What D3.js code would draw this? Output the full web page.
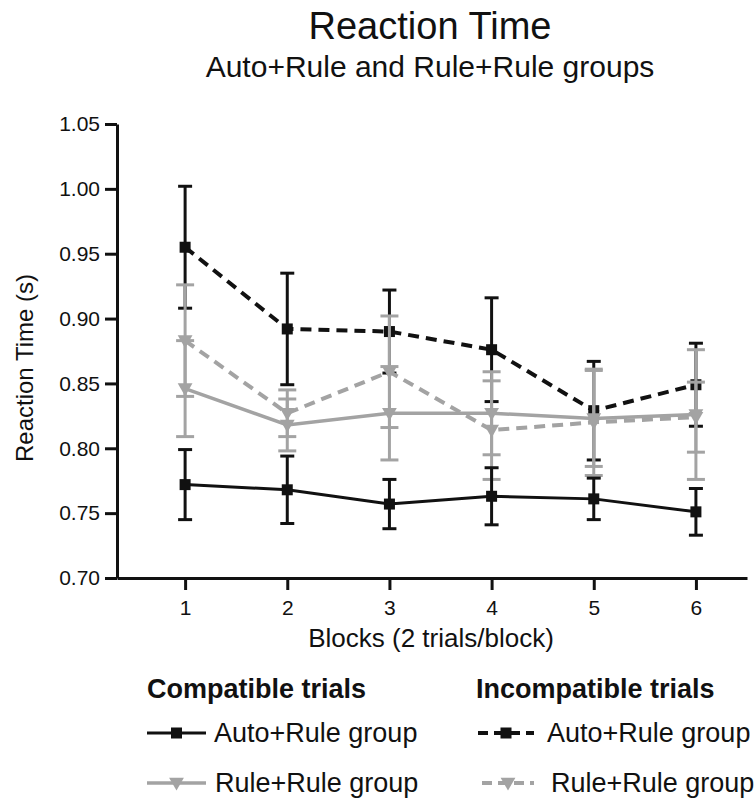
<!DOCTYPE html>
<html>
<head>
<meta charset="utf-8">
<script src="https://cdn.jsdelivr.net/npm/d3@7"></script>
<style>
  body { margin: 0; background: #fff; }
  text { font-family: "Liberation Sans", Arial, Helvetica, sans-serif; fill: #111; }
</style>
</head>
<body>
<div id="chart"></div>
<script>
// data (mean and SEM per block, seconds)
var blocks = [1, 2, 3, 4, 5, 6];
var yTicks = [0.70, 0.75, 0.80, 0.85, 0.90, 0.95, 1.00, 1.05];

var compAutoMean = [0.772, 0.768, 0.757, 0.763, 0.761, 0.751];
var compAutoSem  = [0.027, 0.026, 0.019, 0.022, 0.016, 0.018];
var compRuleMean = [0.846, 0.818, 0.827, 0.827, 0.823, 0.826];
var compRuleSem  = [0.037, 0.020, 0.036, 0.032, 0.037, 0.050];
var incAutoMean  = [0.955, 0.892, 0.890, 0.876, 0.829, 0.849];
var incAutoSem   = [0.047, 0.043, 0.032, 0.040, 0.038, 0.032];
var incRuleMean  = [0.883, 0.827, 0.859, 0.814, 0.820, 0.824];
var incRuleSem   = [0.043, 0.018, 0.043, 0.038, 0.041, 0.027];

var title = "Reaction Time";
var subtitle = "Auto+Rule and Rule+Rule groups";
var xTitle = "Blocks (2 trials/block)";
var yTitle = "Reaction Time (s)";
var legendHeads = ["Compatible trials", "Incompatible trials"];
var groupLabels = ["Auto+Rule group", "Rule+Rule group"];

var black = "#111", gray = "#a3a3a3";

var svg = d3.select("#chart")
  .append("svg")
    .attr("width", 755)
    .attr("height", 800);

// scales
var x = d3.scaleLinear().domain([1/3, 6.5]).range([117, 747]);
var y = d3.scaleLinear().domain([0.70, 1.05]).range([578, 124]);

// titles
svg.append("text")
  .attr("x", 430).attr("y", 39)
  .attr("text-anchor", "middle")
  .style("font-size", "38px")
  .text(title);
svg.append("text")
  .attr("x", 430).attr("y", 77)
  .attr("text-anchor", "middle")
  .style("font-size", "30px")
  .text(subtitle);

// axes
var yAxis = svg.append("g")
  .attr("transform", "translate(117,0)")
  .call(d3.axisLeft(y).tickValues(yTicks).tickFormat(d3.format(".2f"))
    .tickSize(12).tickSizeOuter(0).tickPadding(5));
var xAxis = svg.append("g")
  .attr("transform", "translate(0,578)")
  .call(d3.axisBottom(x).tickValues(blocks).tickFormat(d3.format("d"))
    .tickSize(12).tickSizeOuter(0).tickPadding(10));

[yAxis, xAxis].forEach(function(a) {
  a.select(".domain").attr("stroke", black).attr("stroke-width", 3);
  a.selectAll(".tick line").attr("stroke", black).attr("stroke-width", 3);
  a.selectAll(".tick text")
    .attr("fill", black)
    .style("font-size", "21px")
    .style("font-family", "'Liberation Sans', Arial, sans-serif");
});

svg.append("text")
  .attr("x", 431).attr("y", 647)
  .attr("text-anchor", "middle")
  .style("font-size", "26px")
  .text(xTitle);
svg.append("text")
  .attr("transform", "translate(33,368) rotate(-90)")
  .attr("text-anchor", "middle")
  .style("font-size", "24px")
  .text(yTitle);

// series, drawn back to front
var series = [
  {mean: incAutoMean, sem: incAutoSem, color: black, dash: "11,7", width: 4, marker: "square", cap: 14},
  {mean: incRuleMean, sem: incRuleSem, color: gray, dash: "11,7", width: 4, marker: "triangle", cap: 18},
  {mean: compRuleMean, sem: compRuleSem, color: gray, dash: null, width: 3.5, marker: "triangle", cap: 18},
  {mean: compAutoMean, sem: compAutoSem, color: black, dash: null, width: 3, marker: "square", cap: 14}
];

var line = d3.line()
  .x(function(d) { return x(d.block); })
  .y(function(d) { return y(d.mean); });

function drawMarker(g, type, color, cx, cy) {
  if (type == "square") {
    g.append("rect")
      .attr("x", cx - 5.5).attr("y", cy - 5.5)
      .attr("width", 11).attr("height", 11)
      .attr("fill", color);
  } else {
    g.append("path")
      .attr("d", d3.symbol().type(d3.symbolTriangle).size(95)())
      .attr("transform", "translate(" + cx + "," + (cy - 1) + ") rotate(180)")
      .attr("fill", color);
  }
}

series.forEach(function(s) {
  var pts = blocks.map(function(b, i) { return {block: b, mean: s.mean[i], sem: s.sem[i]}; });
  var g = svg.append("g");

  g.append("path")
    .datum(pts)
    .attr("d", line)
    .attr("fill", "none")
    .attr("stroke", s.color)
    .attr("stroke-width", s.width)
    .attr("stroke-dasharray", s.dash);

  // error bars
  var eb = g.selectAll(".eb").data(pts).enter().append("g")
    .attr("stroke", s.color)
    .attr("stroke-width", 3);
  eb.append("line")
    .attr("x1", function(d) { return x(d.block); })
    .attr("x2", function(d) { return x(d.block); })
    .attr("y1", function(d) { return y(d.mean + d.sem); })
    .attr("y2", function(d) { return y(d.mean - d.sem); });
  eb.append("line")
    .attr("x1", function(d) { return x(d.block) - s.cap / 2; })
    .attr("x2", function(d) { return x(d.block) + s.cap / 2; })
    .attr("y1", function(d) { return y(d.mean + d.sem); })
    .attr("y2", function(d) { return y(d.mean + d.sem); });
  eb.append("line")
    .attr("x1", function(d) { return x(d.block) - s.cap / 2; })
    .attr("x2", function(d) { return x(d.block) + s.cap / 2; })
    .attr("y1", function(d) { return y(d.mean - d.sem); })
    .attr("y2", function(d) { return y(d.mean - d.sem); });

  pts.forEach(function(d) {
    drawMarker(g, s.marker, s.color, x(d.block), y(d.mean));
  });
});

// legend
var legend = svg.append("g");
var colX = [147, 476];
legendHeads.forEach(function(h, c) {
  legend.append("text")
    .attr("x", colX[c]).attr("y", 698)
    .style("font-size", "27px")
    .style("font-weight", "bold")
    .text(h);
});

var legendRows = [
  {col: 0, row: 0, color: black, dash: null, width: 3, marker: "square", x0: 147, x1: 206, tx: 214},
  {col: 0, row: 1, color: gray, dash: null, width: 3.5, marker: "triangle", x0: 147, x1: 206, tx: 215},
  {col: 1, row: 0, color: black, dash: "10,6", width: 4, marker: "square", x0: 478, x1: 534, tx: 547},
  {col: 1, row: 1, color: gray, dash: "10,6", width: 4, marker: "triangle", x0: 482, x1: 534, tx: 551}
];
var rowY = [742, 792];

legendRows.forEach(function(r) {
  var cy = rowY[r.row] - 9;
  legend.append("line")
    .attr("x1", r.x0).attr("x2", r.x1)
    .attr("y1", cy).attr("y2", cy)
    .attr("stroke", r.color)
    .attr("stroke-width", r.width)
    .attr("stroke-dasharray", r.dash);
  drawMarker(legend, r.marker, r.color, (r.x0 + r.x1) / 2, cy);
  legend.append("text")
    .attr("x", r.tx).attr("y", rowY[r.row])
    .style("font-size", "27px")
    .text(groupLabels[r.row]);
});
</script>
</body>
</html>
